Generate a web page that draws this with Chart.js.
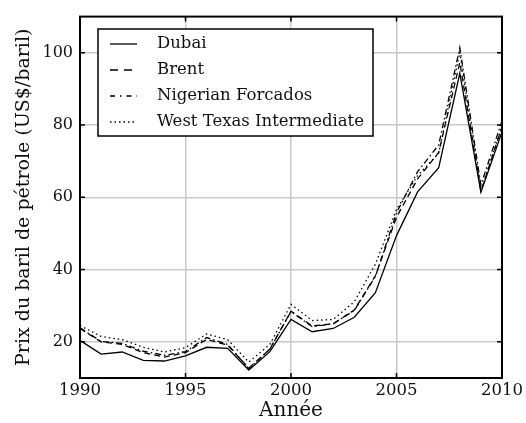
<!DOCTYPE html>
<html>
<head>
<meta charset="utf-8">
<script src="https://cdn.jsdelivr.net/npm/chart.js@4.4.1/dist/chart.umd.min.js"></script>
<style>
  html, body { margin: 0; padding: 0; background: #fff; }
  #wrap { width: 526px; height: 423px; }
</style>
</head>
<body>
<div id="wrap"><canvas id="prix"></canvas></div>
<script>
const annees = [1990, 1991, 1992, 1993, 1994, 1995, 1996, 1997, 1998, 1999, 2000,
                2001, 2002, 2003, 2004, 2005, 2006, 2007, 2008, 2009, 2010];
const dubai = [20.4, 16.6, 17.2, 14.9, 14.7, 16.1, 18.5, 18.2, 12.2, 17.3, 26.2,
               22.8, 23.7, 26.8, 33.6, 49.4, 61.5, 68.2, 94.3, 61.4, 78.1];
const brent = [23.7, 20.0, 19.3, 17.0, 15.8, 17.0, 20.7, 19.1, 12.7, 18.0, 28.5,
               24.4, 25.0, 28.8, 38.3, 54.5, 65.1, 72.4, 97.3, 61.7, 79.5];
const forcados = [23.9, 20.1, 19.6, 17.4, 16.3, 17.3, 21.2, 19.3, 12.6, 18.0, 28.4,
                  24.2, 25.0, 28.7, 38.1, 55.7, 67.1, 74.5, 101.4, 63.4, 81.1];
const wti = [24.5, 21.5, 20.6, 18.5, 17.2, 18.4, 22.2, 20.6, 14.4, 19.3, 30.4,
             25.9, 26.2, 31.1, 41.5, 56.6, 66.0, 72.2, 100.1, 61.9, 79.5];
const noms = ['Dubai', 'Brent', 'Nigerian Forcados', 'West Texas Intermediate'];
const ticksX = [1990, 1995, 2000, 2005, 2010];
const ticksY = [20, 40, 60, 80, 100];

const police = '"DejaVu Serif", "Liberation Serif", serif';
const tirets = [[], [6, 4], [6, 3, 1.5, 3], [1.5, 3]];
const tiretsLegende = [[], [8, 6], [5, 5, 1.5, 5], [1.5, 3]];
const series = [dubai, brent, forcados, wti];

const datasets = series.map((vals, i) => ({
    label: noms[i],
    data: annees.map((a, j) => ({ x: a, y: vals[j] })),
    borderColor: '#000',
    borderWidth: 1.3,
    borderDash: tirets[i],
    pointRadius: 0,
    fill: false,
    tension: 0,
}));

// cadre, petites graduations internes et légende encadrée
const cadre = {
    id: 'cadre',
    afterDatasetsDraw(chart) {
        const { ctx, chartArea: a, scales } = chart;
        ctx.save();
        ctx.strokeStyle = '#000';
        ctx.lineWidth = 2;
        ctx.strokeRect(a.left, a.top, a.right - a.left, a.bottom - a.top);
        ctx.lineWidth = 1.5;
        ctx.beginPath();
        ticksY.forEach(v => {
            const y = scales.y.getPixelForValue(v);
            ctx.moveTo(a.left, y); ctx.lineTo(a.left + 5, y);
            ctx.moveTo(a.right, y); ctx.lineTo(a.right - 5, y);
        });
        ticksX.forEach(v => {
            const x = scales.x.getPixelForValue(v);
            ctx.moveTo(x, a.top); ctx.lineTo(x, a.top + 5);
            ctx.moveTo(x, a.bottom); ctx.lineTo(x, a.bottom - 5);
        });
        ctx.stroke();

        // légende
        const lx = 98, ly = 29, lw = 275, lh = 107;
        ctx.fillStyle = '#fff';
        ctx.fillRect(lx, ly, lw, lh);
        ctx.lineWidth = 1.5;
        ctx.strokeRect(lx, ly, lw, lh);
        ctx.font = '16.5px ' + police;
        ctx.textBaseline = 'middle';
        ctx.fillStyle = '#111';
        noms.forEach((n, i) => {
            const y = 44 + i * 26;
            ctx.beginPath();
            ctx.setLineDash(tiretsLegende[i]);
            ctx.lineWidth = 1.3;
            ctx.moveTo(110, y); ctx.lineTo(137, y);
            ctx.stroke();
            ctx.setLineDash([]);
            ctx.fillText(n, 157, y);
        });
        ctx.restore();
    }
};

new Chart(document.getElementById('prix'), {
    type: 'line',
    data: { datasets },
    plugins: [cadre],
    options: {
        responsive: true,
        maintainAspectRatio: false,
        animation: false,
        layout: { padding: { top: 12, right: 22, left: 0, bottom: 0 } },
        plugins: { legend: { display: false }, tooltip: { enabled: false } },
        scales: {
            x: {
                type: 'linear',
                min: 1990, max: 2010,
                afterBuildTicks: ax => { ax.ticks = ticksX.map(v => ({ value: v })); },
                afterFit: ax => { ax.height = 45; },
                grid: { color: '#c8c8c8', lineWidth: 1.5, drawTicks: false },
                border: { display: false },
                ticks: {
                    color: '#111', padding: 3,
                    font: { family: police, size: 16.5 },
                    callback: v => String(v),
                    maxRotation: 0,
                },
                title: {
                    display: true, text: 'Année', color: '#111',
                    font: { family: police, size: 20 },
                    padding: { top: 0, bottom: 0 },
                },
            },
            y: {
                min: 10, max: 110,
                afterBuildTicks: ax => { ax.ticks = ticksY.map(v => ({ value: v })); },
                afterFit: ax => { ax.width = 80; },
                grid: { color: '#c8c8c8', lineWidth: 1.5, drawTicks: false },
                border: { display: false },
                ticks: {
                    color: '#111', padding: 7,
                    font: { family: police, size: 16 },
                },
                title: {
                    display: true, text: 'Prix du baril de pétrole (US$/baril)', color: '#111',
                    font: { family: police, size: 19 },
                    padding: { top: 13, bottom: 0 },
                },
            },
        },
    },
});
</script>
</body>
</html>
